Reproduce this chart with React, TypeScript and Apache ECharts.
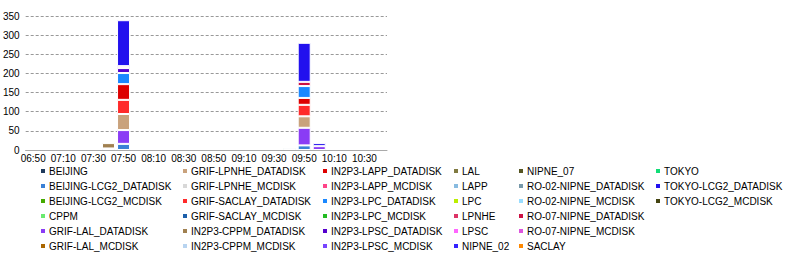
import React, { useEffect, useRef } from "react";
import * as echarts from "echarts";

const categories = [
  "06:50", "07:00", "07:10", "07:20", "07:30", "07:40", "07:50", "08:00",
  "08:10", "08:20", "08:30", "08:40", "08:50", "09:00", "09:10", "09:20",
  "09:30", "09:40", "09:50", "10:00", "10:10", "10:20", "10:30", "10:40",
];

const seriesNames = [
  "BEIJING", "BEIJING-LCG2_DATADISK", "BEIJING-LCG2_MCDISK", "CPPM", "GRIF-LAL_DATADISK", "GRIF-LAL_MCDISK",
  "GRIF-LPNHE_DATADISK", "GRIF-LPNHE_MCDISK", "GRIF-SACLAY_DATADISK", "GRIF-SACLAY_MCDISK", "IN2P3-CPPM_DATADISK", "IN2P3-CPPM_MCDISK",
  "IN2P3-LAPP_DATADISK", "IN2P3-LAPP_MCDISK", "IN2P3-LPC_DATADISK", "IN2P3-LPC_MCDISK", "IN2P3-LPSC_DATADISK", "IN2P3-LPSC_MCDISK",
  "LAL", "LAPP", "LPC", "LPNHE", "LPSC", "NIPNE_02",
  "NIPNE_07", "RO-02-NIPNE_DATADISK", "RO-02-NIPNE_MCDISK", "RO-07-NIPNE_DATADISK", "RO-07-NIPNE_MCDISK", "SACLAY",
  "TOKYO", "TOKYO-LCG2_DATADISK", "TOKYO-LCG2_MCDISK",
];

const seriesColors = [
  "#1f3a5c", "#3a80d6", "#44aa00", "#6aea70", "#8a3cf5", "#aa6600",
  "#c9a27c", "#d8d8d8", "#ff2a2a", "#1c5faa", "#a08050", "#b8d4f0",
  "#dd0000", "#ff4488", "#1a88ff", "#22bb22", "#5500cc", "#7744ff",
  "#807a40", "#88bbe0", "#bbee00", "#dd3366", "#ff66ff", "#3322ff",
  "#555522", "#7799aa", "#99ddff", "#cc1144", "#dd55dd", "#ff8800",
  "#11dd77", "#2211ee", "#444411",
];

// time slots that hold data
const activeTimes = ["07:40", "07:50", "09:40", "09:50", "10:00"];

// values per series at the active time slots
const beijingLcg2Datadisk = [0, 16, 0, 12, 0];
const grifLalDatadisk = [4, 36, 0, 46, 10];
const grifLpnheDatadisk = [0, 42, 0, 30, 0];
const grifSaclayDatadisk = [0, 37, 0, 30, 0];
const in2p3CppmDatadisk = [14, 0, 0, 0, 0];
const in2p3LappDatadisk = [0, 41, 0, 18, 0];
const in2p3LpcDatadisk = [0, 29, 0, 31, 0];
const in2p3LpscDatadisk = [0, 13, 0, 0, 0];
const ro02NipneDatadisk = [0, 0, 5, 0, 0];
const ro07NipneDatadisk = [0, 5, 0, 11, 0];
const tokyoLcg2Datadisk = [0, 120, 0, 102, 8];

const seriesValues: { [k: string]: number[] } = {
  "BEIJING-LCG2_DATADISK": beijingLcg2Datadisk,
  "GRIF-LAL_DATADISK": grifLalDatadisk,
  "GRIF-LPNHE_DATADISK": grifLpnheDatadisk,
  "GRIF-SACLAY_DATADISK": grifSaclayDatadisk,
  "IN2P3-CPPM_DATADISK": in2p3CppmDatadisk,
  "IN2P3-LAPP_DATADISK": in2p3LappDatadisk,
  "IN2P3-LPC_DATADISK": in2p3LpcDatadisk,
  "IN2P3-LPSC_DATADISK": in2p3LpscDatadisk,
  "RO-02-NIPNE_DATADISK": ro02NipneDatadisk,
  "RO-07-NIPNE_DATADISK": ro07NipneDatadisk,
  "TOKYO-LCG2_DATADISK": tokyoLcg2Datadisk,
};

const legendLefts = [39, 181, 321, 452, 517, 654];

const FONT = "Liberation Sans, Arial, sans-serif";

function buildData(name: string) {
  const vals = seriesValues[name];
  return categories.map((c) => {
    if (!vals) return null;
    const i = activeTimes.indexOf(c);
    if (i < 0) return null;
    return vals[i] > 0 ? vals[i] : null;
  });
}

export default function App() {
  const ref = useRef<HTMLDivElement>(null);
  useEffect(() => {
    if (!ref.current) return;
    const chart = echarts.init(ref.current, undefined, { renderer: "svg" });
    const legends = legendLefts.map((left, col) => ({
      orient: "vertical",
      left,
      top: 166,
      itemWidth: 6,
      itemHeight: 6,
      itemGap: 5,
      icon: "rect",
      selectedMode: false,
      padding: 0,
      textStyle: { fontSize: 10, color: "#000", fontFamily: FONT, padding: [0, 0, 0, -2] },
      data: seriesNames.slice(col * 6, col * 6 + 6),
    }));
    chart.setOption({
      animation: false,
      textStyle: { fontFamily: FONT },
      grid: { left: 25, right: 399, top: 16, bottom: 104, containLabel: false },
      legend: legends,
      xAxis: {
        type: "category",
        data: categories,
        axisTick: { show: false },
        axisLine: { lineStyle: { color: "#aaaaaa", width: 1 } },
        axisLabel: { interval: 1, fontSize: 10, color: "#000", margin: 3, fontFamily: FONT },
      },
      yAxis: {
        type: "value",
        min: 0,
        max: 350,
        interval: 50,
        axisLine: { show: false },
        axisTick: { show: false },
        axisLabel: { fontSize: 10, color: "#000", margin: 6, fontFamily: FONT },
        splitLine: { lineStyle: { color: "#999999", type: [3, 2], width: 1 } },
      },
      series: seriesNames.map((name, i) => ({
        name,
        type: "bar",
        stack: "total",
        barWidth: 13,
        data: buildData(name),
        itemStyle: { color: seriesColors[i], borderColor: "#ffffff", borderWidth: 1 },
      })),
    });
    return () => chart.dispose();
  }, []);
  return (
    <div
      ref={ref}
      style={{ position: "fixed", left: 0, top: 0, width: 786, height: 254, background: "#fff" }}
    />
  );
}
